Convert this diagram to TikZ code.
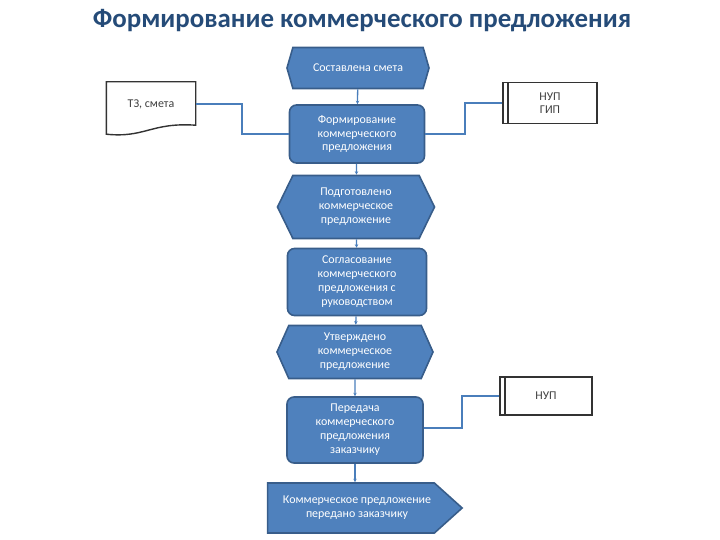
\documentclass[tikz,border=0pt]{standalone}
\usepackage{fontspec}
\setmainfont{Carlito}
\usepackage{tikz}
\usetikzlibrary{arrows.meta,positioning,shapes.symbols,calc}
\definecolor{boxblue}{HTML}{4F81BD}
\definecolor{boxedge}{HTML}{385D8A}
\definecolor{lineblue}{HTML}{4A7EBB}
\definecolor{titleblue}{HTML}{254B78}
\tikzset{
  event/.style={signal, signal to=east and west, draw=boxedge, fill=boxblue, line width=1.6bp,
    text=white, align=center, font=\fontsize{12}{14}\selectfont, inner sep=1bp},
  func/.style={draw=boxedge, fill=boxblue, line width=1.6bp, rounded corners=7bp,
    text=white, align=center, font=\fontsize{12}{14}\selectfont, inner sep=1bp},
  unitbox/.style={draw=black!80, fill=white, line width=1.4bp, align=center,
    font=\fontsize{12}{13.5}\selectfont, text=black!75,
    path picture={\draw[black!80, line width=1.4bp]
      ([xshift=5bp]path picture bounding box.north west) -- ([xshift=5bp]path picture bounding box.south west);}},
  docbox/.style={align=center, font=\fontsize{12}{14}\selectfont, text=black!75, inner sep=1bp},
  flow/.style={lineblue, line width=1.3bp, -{Stealth[length=3.5bp,width=3.5bp]}},
  link/.style={lineblue, line width=1.3bp}
}
\begin{document}
\begin{tikzpicture}[x=1bp, y=-1bp]
\useasboundingbox (0,0) rectangle (720,540);
\node[font=\fontsize{27}{30}\selectfont\bfseries, text=titleblue] (title) at (362,21) {Формирование коммерческого предложения};
% main chain
\node[event, minimum width=142bp, minimum height=41bp, signal pointer angle=148] (made) at (358,68) {Составлена смета};
\node[func, minimum width=135bp, minimum height=58bp] (form) at (357,134) {Формирование\\коммерческого\\предложения};
\node[event, minimum width=157bp, minimum height=63bp, signal pointer angle=128] (ready) at (356,207) {Подготовлено\\коммерческое\\предложение};
\node[func, minimum width=139bp, minimum height=67bp] (agree) at (357,282) {Согласование\\коммерческого\\предложения с\\руководством};
\node[event, minimum width=156bp, minimum height=53bp, signal pointer angle=132] (approved) at (355,352) {Утверждено\\коммерческое\\предложение};
\node[func, minimum width=136bp, minimum height=66bp] (send) at (355,430) {Передача\\коммерческого\\предложения\\заказчику};
\node[signal, signal to=east, draw=boxedge, fill=boxblue, line width=1.6bp, text=white, align=center,
  font=\fontsize{12}{14}\selectfont, minimum width=192bp, minimum height=50bp, signal pointer angle=84] (sent) at (351,508)
  {\hspace*{12bp}Коммерческое предложение\\\hspace*{12bp}передано заказчику};
% inputs
\node[docbox, minimum width=89bp, minimum height=44bp] (tz) at (151,104) {ТЗ, смета};
\draw[black!80, line width=1.4bp, fill=white] (tz.north west) -- (tz.north east) -- ($(tz.south east)+(0,-1)$)
  .. controls ($(tz.south)+(0,-4)$) and ($(tz.south)+(-6,12)$) .. ($(tz.south west)+(0,8)$) -- cycle;
\node[docbox] at (tz) {ТЗ, смета};
\node[unitbox, minimum width=94bp, minimum height=41bp] (nup1) at (550,103) {НУП\\ГИП};
\node[unitbox, minimum width=92bp, minimum height=38bp] (nup2) at (546,396) {НУП};
% connectors
\draw[flow] (made) -- (form);
\draw[flow] (form) -- (ready);
\draw[flow] (ready) -- (agree);
\draw[flow] (agree) -- (approved);
\draw[flow] (approved) -- (send);
\draw[flow] (send.south) -- (send.south |- sent.north);
\draw[link] (tz.east) -| (242,134) -- (form.west);
\draw[link] (nup1.west) -| (465,134) -- (form.east);
\draw[link] (nup2.west) -| (462,428) -- (send.east |- 0,428);
\end{tikzpicture}
\end{document}
